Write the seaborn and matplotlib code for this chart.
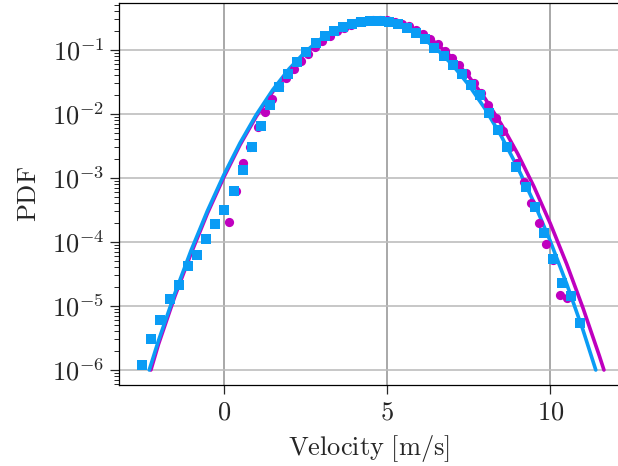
import numpy as np
import matplotlib
matplotlib.use("Agg")
import matplotlib.pyplot as plt
import matplotlib.ticker as mticker
import seaborn as sns

# data
# fitted curves (PDF vs velocity)
blue_curve_x = [-2.28, -2.0, -1.5, -1.0, -0.5, 0.0, 0.5, 1.0, 1.5, 2.0, 2.5, 3.0, 3.5, 4.0, 4.5,
                5.0, 5.5, 6.0, 6.5, 7.0, 7.5, 8.0, 8.5, 9.0, 9.5, 10.0, 10.5, 11.0, 11.39]
blue_curve_y = [1.0e-6, 2.85e-6, 1.55e-5, 7.37e-5, 3.06e-4, 1.11e-3, 3.53e-3, 9.8e-3, 0.0238, 0.0506,
                0.094, 0.1526, 0.2166, 0.2688, 0.2917, 0.2769, 0.2298, 0.1667, 0.1057, 0.0587,
                0.02844, 0.01207, 4.48e-3, 1.45e-3, 4.11e-4, 1.02e-4, 2.21e-5, 4.19e-6, 1.0e-6]

magenta_curve_x = [-2.23, -2.0, -1.5, -1.0, -0.5, 0.0, 0.5, 1.0, 1.5, 2.0, 2.5, 3.0, 3.5, 4.0, 4.5,
                   5.0, 5.5, 6.0, 6.5, 7.0, 7.5, 8.0, 8.5, 9.0, 9.5, 10.0, 10.5, 11.0, 11.5, 11.64]
magenta_curve_y = [1.0e-6, 2.5e-6, 1.4e-5, 6.6e-5, 2.8e-4, 1.02e-3, 3.3e-3, 9.2e-3, 0.0222,
                   0.0475, 0.089, 0.1440, 0.2060, 0.2600, 0.2914, 0.2891, 0.2515, 0.1918, 0.1283,
                   0.0752, 0.0387, 0.01744, 6.89e-3, 2.39e-3, 7.26e-4, 1.93e-4, 4.52e-5, 9.25e-6,
                   1.66e-6, 1.0e-6]

# histogram points
square_x = [-2.50, -2.22, -1.94, -1.66, -1.38, -1.10, -0.82, -0.54, -0.26, 0.02, 0.30, 0.58, 0.86,
            1.13, 1.41, 1.69, 1.97, 2.25, 2.53, 2.81, 3.09, 3.37, 3.65, 3.93, 4.21, 4.49, 4.77,
            5.05, 5.33, 5.61, 5.89, 6.17, 6.45, 6.73, 7.01, 7.29, 7.57, 7.85, 8.13, 8.41, 8.68,
            8.96, 9.24, 9.52, 9.80, 10.08, 10.36, 10.64, 10.92]
square_y = [1.21e-6, 3.1e-6, 6.0e-6, 1.27e-5, 2.1e-5, 4.2e-5, 6.3e-5, 1.11e-4, 1.9e-4, 3.2e-4,
            6.2e-4, 1.32e-3, 3.0e-3, 6.6e-3, 1.37e-2, 2.6e-2, 4.2e-2, 6.4e-2, 9.4e-2, 0.127,
            0.166, 0.198, 0.231, 0.258, 0.276, 0.287, 0.286, 0.275, 0.254, 0.222, 0.182, 0.147,
            0.106, 0.0806, 0.058, 0.042, 0.0284, 0.0198, 0.0105, 5.6e-3, 3.08e-3, 1.5e-3, 7.3e-4,
            3.5e-4, 1.4e-4, 5.5e-5, 2.26e-5, 1.45e-5, 5.5e-6]

circle_x = [0.15, 0.37, 0.59, 0.81, 1.04, 1.26, 1.48, 1.70, 1.92, 2.14, 2.36, 2.58, 2.80, 3.02,
            3.24, 3.46, 3.68, 3.90, 4.12, 4.35, 4.57, 4.79, 5.01, 5.23, 5.45, 5.67, 5.89, 6.11,
            6.33, 6.55, 6.77, 6.99, 7.21, 7.43, 7.65, 7.87, 8.09, 8.32, 8.54, 8.76, 8.98, 9.20,
            9.42, 9.64, 9.86, 10.08, 10.30, 10.52]
circle_y = [2.05e-4, 6.2e-4, 1.71e-3, 3.08e-3, 6.3e-3, 1.06e-2, 1.73e-2, 2.74e-2, 3.7e-2, 5.1e-2,
            6.8e-2, 8.8e-2, 0.112, 0.138, 0.166, 0.195, 0.222, 0.248, 0.269, 0.284, 0.293, 0.295,
            0.289, 0.276, 0.257, 0.233, 0.206, 0.178, 0.149, 0.122, 0.098, 0.076, 0.058, 0.043,
            0.031, 0.021, 0.0138, 8.6e-3, 5.5e-3, 3.0e-3, 1.7e-3, 8.7e-4, 4.0e-4, 1.95e-4, 9.3e-5,
            5.2e-5, 1.47e-5, 1.32e-5]

x_ticks = [0, 5, 10]

magenta = '#BF00BF'
blue = '#0A9CF5'

sns.set_style('white')
plt.rcParams['mathtext.fontset'] = 'cm'
plt.rcParams['font.family'] = ['DejaVu Serif']

fig = plt.figure(figsize=(6.18, 4.66), dpi=100)
ax = fig.add_axes([119 / 618, 81 / 466, 499 / 618, 382 / 466])

sns.lineplot(x=magenta_curve_x, y=magenta_curve_y, color=magenta, linewidth=2.6, sort=False,
             estimator=None, ax=ax, zorder=3)
sns.lineplot(x=blue_curve_x, y=blue_curve_y, color=blue, linewidth=2.6, sort=False,
             estimator=None, ax=ax, zorder=3)
sns.scatterplot(x=circle_x, y=circle_y, color=magenta, marker='o', s=44, linewidth=0,
                ax=ax, zorder=4)
sns.scatterplot(x=square_x, y=square_y, color=blue, marker='s', s=44, linewidth=0,
                ax=ax, zorder=5)

ax.set_yscale('log')
ax.set_xlim(-3.206, 12.07)
ax.set_ylim(5.83e-7, 0.542)

ax.set_xticks(x_ticks)
ax.xaxis.set_major_formatter(mticker.FuncFormatter(lambda v, p: r'$%d$' % round(v)))
ax.yaxis.set_major_locator(mticker.LogLocator(base=10, numticks=20))
ax.yaxis.set_minor_locator(mticker.LogLocator(base=10, subs=np.arange(2, 10), numticks=20))
ax.yaxis.set_major_formatter(mticker.FuncFormatter(lambda v, p: r'$10^{%d}$' % round(np.log10(v))))
ax.yaxis.set_minor_formatter(mticker.NullFormatter())

ax.tick_params(axis='both', which='major', direction='out', length=6.5, width=0.9,
               labelsize=19, pad=4, bottom=True, left=True, top=False, right=False)
ax.tick_params(axis='y', which='minor', direction='out', length=3.5, width=0.7, left=True)

ax.set_axisbelow(True)
ax.yaxis.grid(True, which='major', color='#bdbdbd', linewidth=1.2)
ax.xaxis.grid(True, which='major', color='#9a9a9a', linewidth=1.2)

for side in ['left', 'bottom', 'top']:
    ax.spines[side].set_color('black')
    ax.spines[side].set_linewidth(0.9)
ax.spines['right'].set_visible(False)

ax.set_xlabel(r'$\mathrm{Velocity\ [m/s]}$', fontsize=19, labelpad=6)
ax.set_ylabel(r'$\mathrm{PDF}$', fontsize=19, labelpad=8)

fig.savefig('out.png', dpi=100)
